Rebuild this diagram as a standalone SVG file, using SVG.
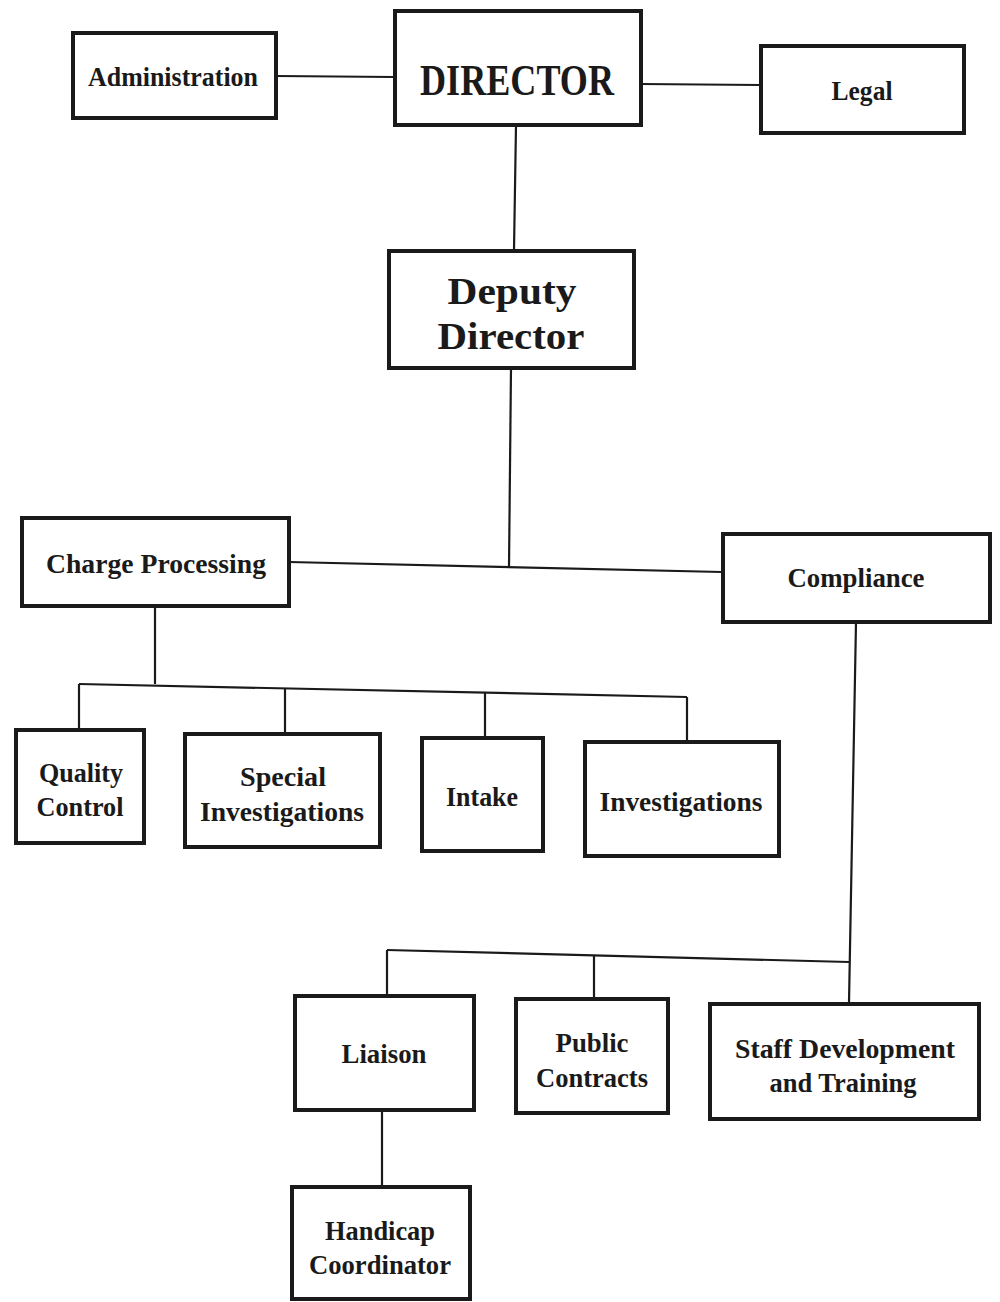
<svg xmlns="http://www.w3.org/2000/svg" width="1000" height="1302" viewBox="0 0 1000 1302">
<style>
.box{fill:#fff;stroke:#1a1a1a;stroke-width:4}
.ln{stroke:#1a1a1a;stroke-width:2.2;fill:none}
text{font-family:"Liberation Serif","DejaVu Serif",serif;font-weight:bold;fill:#1a1a1a;text-anchor:middle}
.t{font-size:27px}
.dd{font-size:37px}
.dir{font-size:44px}
</style>
<rect width="1000" height="1302" fill="#fff"/>
<g id="connectors">
<line class="ln" x1="276" y1="76" x2="394" y2="77"/>
<line class="ln" x1="641" y1="84" x2="760" y2="85"/>
<line class="ln" x1="516" y1="125" x2="514" y2="250"/>
<line class="ln" x1="511" y1="368" x2="509" y2="567"/>
<line class="ln" x1="289" y1="562" x2="722" y2="572"/>
<line class="ln" x1="155" y1="607" x2="155" y2="684"/>
<line class="ln" x1="79" y1="684" x2="687" y2="697"/>
<line class="ln" x1="79" y1="684" x2="79" y2="729"/>
<line class="ln" x1="285" y1="689" x2="285" y2="733"/>
<line class="ln" x1="485" y1="693" x2="485" y2="737"/>
<line class="ln" x1="687" y1="697" x2="687" y2="741"/>
<line class="ln" x1="856" y1="622" x2="849" y2="1003"/>
<line class="ln" x1="387" y1="950" x2="849" y2="962"/>
<line class="ln" x1="387" y1="950" x2="387" y2="995"/>
<line class="ln" x1="594" y1="955" x2="594" y2="998"/>
<line class="ln" x1="382" y1="1110" x2="382" y2="1186"/>
</g>
<g id="administration"><rect class="box" x="73" y="33" width="203" height="85"/><text class="t" x="173" y="86" textLength="170" lengthAdjust="spacingAndGlyphs">Administration</text></g>
<g id="director"><rect class="box" x="395" y="11" width="246" height="114"/><text class="dir" x="517" y="95" textLength="194" lengthAdjust="spacingAndGlyphs">DIRECTOR</text></g>
<g id="legal"><rect class="box" x="761" y="46" width="203" height="87"/><text class="t" x="862" y="100" textLength="61" lengthAdjust="spacingAndGlyphs">Legal</text></g>
<g id="deputy"><rect class="box" x="389" y="251" width="245" height="117"/><text class="dd" x="512" y="304" textLength="129" lengthAdjust="spacingAndGlyphs">Deputy</text><text class="dd" x="511" y="349" textLength="147" lengthAdjust="spacingAndGlyphs">Director</text></g>
<g id="charge"><rect class="box" x="22" y="518" width="267" height="88"/><text class="t" x="156" y="573" textLength="220" lengthAdjust="spacingAndGlyphs">Charge Processing</text></g>
<g id="compliance"><rect class="box" x="723" y="534" width="267" height="88"/><text class="t" x="856" y="587" textLength="137" lengthAdjust="spacingAndGlyphs">Compliance</text></g>
<g id="quality"><rect class="box" x="16" y="730" width="128" height="113"/><text class="t" x="81" y="782" textLength="84" lengthAdjust="spacingAndGlyphs">Quality</text><text class="t" x="80" y="816" textLength="87" lengthAdjust="spacingAndGlyphs">Control</text></g>
<g id="special"><rect class="box" x="185" y="734" width="195" height="113"/><text class="t" x="283" y="786" textLength="86" lengthAdjust="spacingAndGlyphs">Special</text><text class="t" x="282" y="821" textLength="164" lengthAdjust="spacingAndGlyphs">Investigations</text></g>
<g id="intake"><rect class="box" x="422" y="738" width="121" height="113"/><text class="t" x="482" y="806" textLength="72" lengthAdjust="spacingAndGlyphs">Intake</text></g>
<g id="investigations"><rect class="box" x="585" y="742" width="194" height="114"/><text class="t" x="681" y="811" textLength="163" lengthAdjust="spacingAndGlyphs">Investigations</text></g>
<g id="liaison"><rect class="box" x="295" y="996" width="179" height="114"/><text class="t" x="384" y="1063" textLength="85" lengthAdjust="spacingAndGlyphs">Liaison</text></g>
<g id="public"><rect class="box" x="516" y="999" width="152" height="114"/><text class="t" x="592" y="1052" textLength="73" lengthAdjust="spacingAndGlyphs">Public</text><text class="t" x="592" y="1087" textLength="112" lengthAdjust="spacingAndGlyphs">Contracts</text></g>
<g id="staff"><rect class="box" x="710" y="1004" width="269" height="115"/><text class="t" x="845" y="1058" textLength="220" lengthAdjust="spacingAndGlyphs">Staff Development</text><text class="t" x="843" y="1092" textLength="147" lengthAdjust="spacingAndGlyphs">and Training</text></g>
<g id="handicap"><rect class="box" x="292" y="1187" width="178" height="112"/><text class="t" x="380" y="1240" textLength="110" lengthAdjust="spacingAndGlyphs">Handicap</text><text class="t" x="380" y="1274" textLength="142" lengthAdjust="spacingAndGlyphs">Coordinator</text></g>
</svg>
